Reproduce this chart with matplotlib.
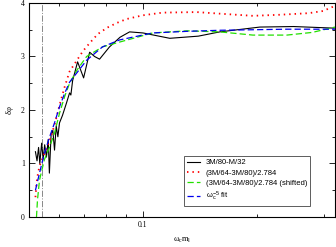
import matplotlib
matplotlib.use("Agg")
import matplotlib.pyplot as plt
from matplotlib.ticker import FixedLocator, NullFormatter, MultipleLocator

# 3M/80-M/32 (black solid)
black_x = [0.0520, 0.0525, 0.0530, 0.0534, 0.0540, 0.0545, 0.0550, 0.0556, 0.0562,
           0.0566, 0.0572, 0.0578, 0.0584, 0.0590, 0.0596, 0.0602, 0.0613, 0.0628,
           0.0640, 0.0645, 0.0652, 0.0672, 0.0697, 0.0723, 0.0745, 0.0768, 0.0816,
           0.0870, 0.0922, 0.1000, 0.1177, 0.1400, 0.1596, 0.2036, 0.2500, 0.3200]
black_y = [1.22, 1.05, 1.30, 1.00, 1.38, 1.08, 1.35, 1.12, 1.45,
           0.82, 1.55, 1.62, 1.25, 1.70, 1.50, 1.76, 1.90, 2.13,
           2.32, 2.28, 2.55, 2.90, 2.60, 3.08, 3.00, 2.95, 3.18,
           3.36, 3.46, 3.44, 3.34, 3.38, 3.46, 3.55, 3.56, 3.53]

# (3M/64-3M/80)/2.784 (red dotted)
red_x = [0.0520, 0.0524, 0.0529, 0.0536, 0.0549, 0.0564, 0.0584, 0.0602, 0.0621,
         0.0640, 0.0665, 0.0694, 0.0723, 0.0760, 0.0805, 0.0855, 0.0905, 0.1000,
         0.1127, 0.1387, 0.1600, 0.1951, 0.2300, 0.2744, 0.2989, 0.3177, 0.3216]
red_y = [0.37, 0.66, 0.85, 1.00, 1.19, 1.38, 1.72, 2.09, 2.43,
         2.72, 2.90, 3.10, 3.25, 3.42, 3.54, 3.63, 3.70, 3.77,
         3.82, 3.83, 3.80, 3.76, 3.78, 3.81, 3.85, 3.93, 3.95]

# (3M/64-3M/80)/2.784 shifted (green dashed)
green_x = [0.05233, 0.05265, 0.0533, 0.0549, 0.0567, 0.0584, 0.0602, 0.0621, 0.0640,
           0.0670, 0.0710, 0.0782, 0.0868, 0.1061, 0.1305, 0.1596, 0.1951, 0.2400,
           0.2800, 0.3216]
green_y = [0.00, 0.32, 0.69, 1.07, 1.31, 1.57, 1.94, 2.25, 2.50,
           2.75, 3.00, 3.18, 3.27, 3.44, 3.48, 3.46, 3.40, 3.40,
           3.45, 3.55]

# omega_c^-5 fit (blue dashed)
blue_x = [0.0520, 0.0533, 0.0549, 0.0567, 0.0584, 0.0602, 0.0621, 0.0640, 0.0710,
          0.0782, 0.0868, 0.1061, 0.1305, 0.1596, 0.2400, 0.3216]
blue_y = [0.50, 0.82, 1.19, 1.50, 1.76, 2.06, 2.31, 2.52, 2.93,
          3.18, 3.31, 3.44, 3.47, 3.49, 3.51, 3.51]

cutoff_x = 0.0541
labels = ["3M/80-M/32", "(3M/64-3M/80)/2.784",
          "(3M/64-3M/80)/2.784 (shifted)", r"$\mathregular{\omega_c^{-5}}$ fit"]

serif = "Liberation Serif"
sans = "Liberation Sans"

fig = plt.figure(figsize=(3.36, 2.47), dpi=100)
ax = fig.add_axes([0.0863, 0.1215, 0.9107, 0.8664])

ax.axvline(cutoff_x, color="#888888", lw=0.7, ls="-.")
ax.plot(black_x, black_y, color="black", lw=0.8, label=labels[0])
ax.plot(red_x, red_y, color="red", lw=1.3, ls=(0, (0.8, 2.2)), label=labels[1])
ax.plot(green_x, green_y, color="#22e000", lw=0.9, ls=(0, (5, 2.5)), label=labels[2])
ax.plot(blue_x, blue_y, color="#0000ee", lw=0.9, ls=(0, (5, 2.5)), label=labels[3])

ax.set_xscale("log")
ax.set_xlim(0.05, 0.3216)
ax.set_ylim(0, 4)
ax.xaxis.set_major_locator(FixedLocator([0.1]))
ax.xaxis.set_minor_locator(FixedLocator([0.06, 0.07, 0.08, 0.09, 0.2, 0.3]))
ax.xaxis.set_minor_formatter(NullFormatter())
ax.set_xticklabels(["0.1"])
ax.yaxis.set_major_locator(MultipleLocator(1))
ax.yaxis.set_minor_locator(MultipleLocator(0.5))
ax.tick_params(which="both", direction="in", top=True, right=True, width=0.6,
               labelsize=5.5, pad=3)
ax.tick_params(which="major", length=4)
ax.tick_params(which="minor", length=2.5)
for lab in ax.get_xticklabels() + ax.get_yticklabels():
    lab.set_family(serif)
for s in ax.spines.values():
    s.set_linewidth(0.8)

ax.set_xlabel(r"$\mathregular{\omega_c m_l}$", fontsize=6, family=serif, labelpad=5)
ax.set_ylabel("δφ", fontsize=6, family=serif, labelpad=5)

leg = ax.legend(loc="lower right", bbox_to_anchor=(0.918, 0.051),
                prop={"family": sans, "size": 5.5}, frameon=True, fancybox=False,
                handlelength=1.7, handletextpad=0.8, borderpad=0.35,
                labelspacing=0.4, borderaxespad=0)
leg.get_frame().set_edgecolor("#333333")
leg.get_frame().set_linewidth(0.7)

fig.savefig("out.png", dpi=100)
